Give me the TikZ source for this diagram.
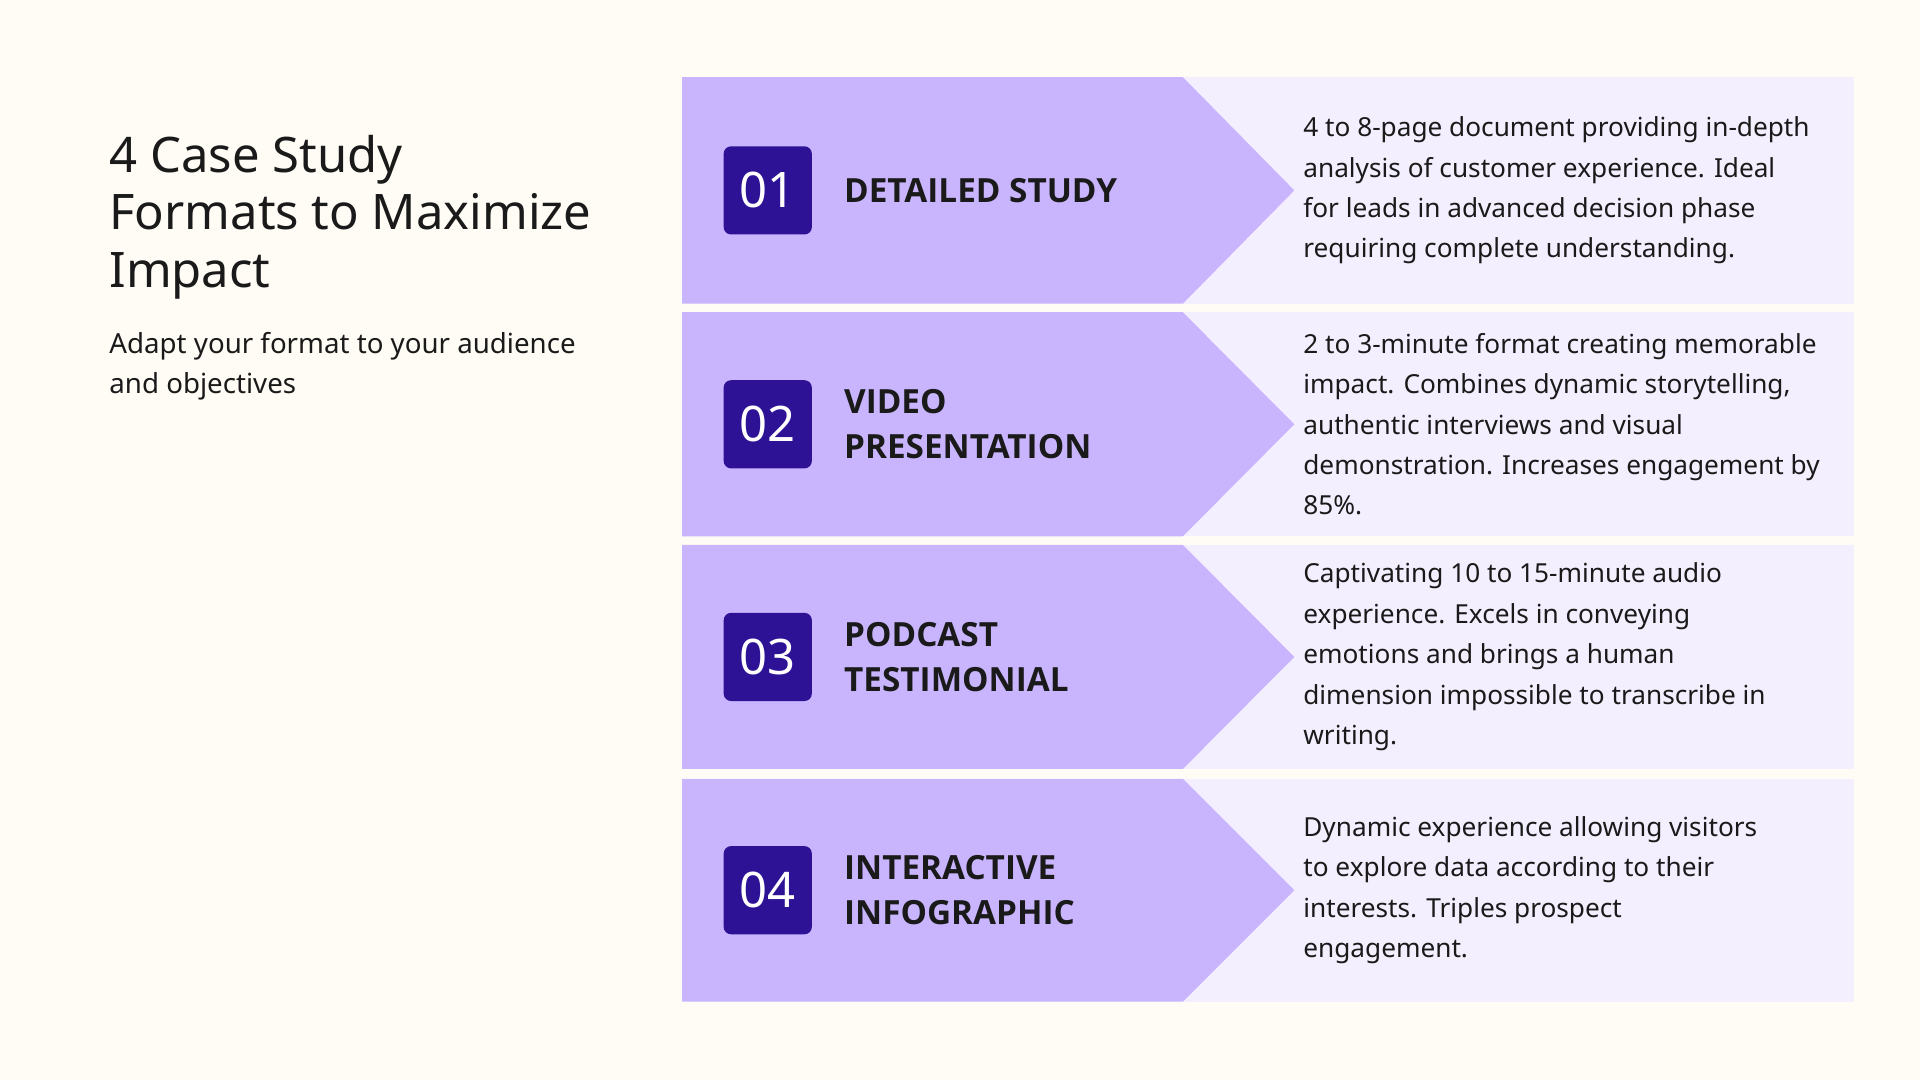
\documentclass[tikz,border=0pt]{standalone}
\usepackage{fontspec}
\setmainfont{Noto Sans}
\newfontfamily\labfont{Open Sans}
\definecolor{bg}{HTML}{FFFCF5}
\definecolor{purp}{HTML}{C9B5FD}
\definecolor{lite}{HTML}{F3EFFE}
\definecolor{dark}{HTML}{2E1296}
\definecolor{ink}{HTML}{1A1A1A}
\tikzset{
 desc/.style={anchor=west,align=left,font=\fontsize{10.7}{16.5}\selectfont,text=ink,inner sep=0},
 lab/.style={anchor=west,align=left,font=\labfont\fontsize{13.6}{18.5}\selectfont\bfseries,text=ink,inner sep=0},
 num/.style={fill=dark,rounded corners=3pt,minimum size=36pt,inner sep=0,text=white,font=\fontsize{20}{24}\selectfont}
}
\begin{document}
\begin{tikzpicture}[x=0.5pt,y=-0.5pt]
\fill[bg] (0,0) rectangle (1568,882);
\useasboundingbox (0,0) rectangle (1568,882);
\node[anchor=north west,align=left,inner sep=0,text=ink,font=\fontsize{20}{23.5}\selectfont] (title) at (89,110) {4 Case Study\\Formats to Maximize\\Impact};
\node[anchor=north west,align=left,inner sep=0,text=ink,font=\fontsize{11.3}{16.5}\selectfont] (sub) at (89,271) {Adapt your format to your audience\\and objectives};
\foreach \t/\b/\n/\l/\d in {
 63/248/01/{DETAILED STUDY}/{4 to 8-page document providing in-depth\\analysis of customer experience. Ideal\\for leads in advanced decision phase\\requiring complete understanding.},
 255/438/02/{VIDEO\\PRESENTATION}/{2 to 3-minute format creating memorable\\impact. Combines dynamic storytelling,\\authentic interviews and visual\\demonstration. Increases engagement by\\85\%.},
 445/628/03/{PODCAST\\TESTIMONIAL}/{Captivating 10 to 15-minute audio\\experience. Excels in conveying\\emotions and brings a human\\dimension impossible to transcribe in\\writing.},
 636/818/04/{INTERACTIVE\\INFOGRAPHIC}/{Dynamic experience allowing visitors\\to explore data according to their\\interests. Triples prospect\\engagement.}}{
 \pgfmathsetmacro\c{(\t+\b)/2}
 \fill[lite] (966,\t) rectangle (1514,\b);
 \fill[purp] (557,\t) -- (966,\t) -- (1057,\c) -- (966,\b) -- (557,\b) -- cycle;
 \node[num] (n\n) at (627,\c) {\n};
 \node[lab] (l\n) at (689,\c) {\l};
 \node[desc] (d\n) at (1064,\c) {\d};
}
\end{tikzpicture}
\end{document}
